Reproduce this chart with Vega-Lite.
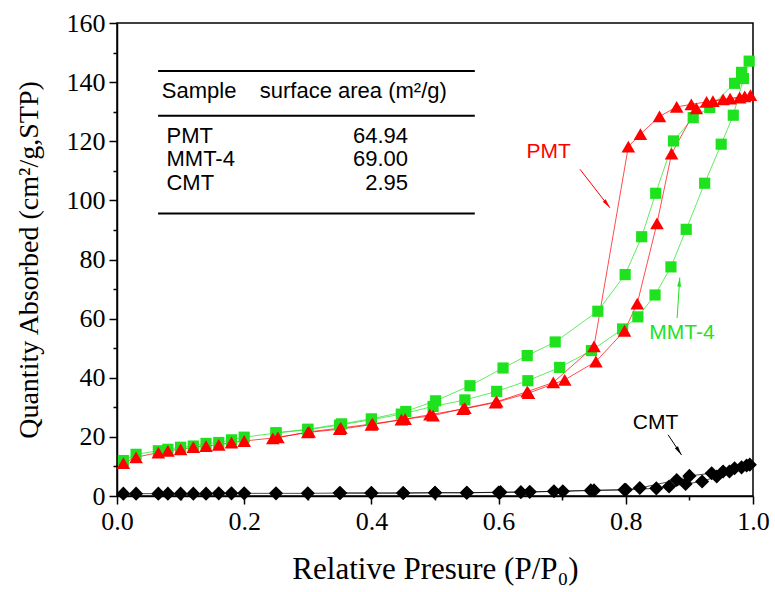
{
  "$schema": "https://vega.github.io/schema/vega-lite/v6.json",
  "width": 636,
  "height": 473,
  "autosize": {"type": "none"},
  "padding": {"left": 117, "top": 23, "right": 22, "bottom": 96},
  "background": "white",
  "config": {
    "view": {"stroke": "black", "strokeWidth": 1.5},
    "axis": {"domainColor": "black", "tickColor": "black", "labelColor": "black", "titleColor": "black", "grid": false}
  },
  "datasets": {
    "iso": [
      {"s": "MMT-4", "o": 1, "x": 0.01, "y": 12.0},
      {"s": "MMT-4", "o": 2, "x": 0.03, "y": 14.1},
      {"s": "MMT-4", "o": 3, "x": 0.065, "y": 15.3},
      {"s": "MMT-4", "o": 4, "x": 0.08, "y": 15.8},
      {"s": "MMT-4", "o": 5, "x": 0.10, "y": 16.5},
      {"s": "MMT-4", "o": 6, "x": 0.12, "y": 16.9},
      {"s": "MMT-4", "o": 7, "x": 0.14, "y": 17.8},
      {"s": "MMT-4", "o": 8, "x": 0.16, "y": 18.1},
      {"s": "MMT-4", "o": 9, "x": 0.18, "y": 19.0},
      {"s": "MMT-4", "o": 10, "x": 0.20, "y": 19.9},
      {"s": "MMT-4", "o": 11, "x": 0.25, "y": 21.3},
      {"s": "MMT-4", "o": 12, "x": 0.30, "y": 22.4},
      {"s": "MMT-4", "o": 13, "x": 0.35, "y": 24.0},
      {"s": "MMT-4", "o": 14, "x": 0.40, "y": 25.8},
      {"s": "MMT-4", "o": 15, "x": 0.447, "y": 27.7},
      {"s": "MMT-4", "o": 16, "x": 0.497, "y": 30.3},
      {"s": "MMT-4", "o": 17, "x": 0.547, "y": 32.5},
      {"s": "MMT-4", "o": 18, "x": 0.597, "y": 35.4},
      {"s": "MMT-4", "o": 19, "x": 0.646, "y": 39.0},
      {"s": "MMT-4", "o": 20, "x": 0.696, "y": 43.5},
      {"s": "MMT-4", "o": 21, "x": 0.746, "y": 49.2},
      {"s": "MMT-4", "o": 22, "x": 0.795, "y": 56.5},
      {"s": "MMT-4", "o": 23, "x": 0.819, "y": 60.6},
      {"s": "MMT-4", "o": 24, "x": 0.846, "y": 68.0},
      {"s": "MMT-4", "o": 25, "x": 0.871, "y": 77.5},
      {"s": "MMT-4", "o": 26, "x": 0.895, "y": 90.2},
      {"s": "MMT-4", "o": 27, "x": 0.924, "y": 105.8},
      {"s": "MMT-4", "o": 28, "x": 0.950, "y": 119.0},
      {"s": "MMT-4", "o": 29, "x": 0.969, "y": 128.8},
      {"s": "MMT-4", "o": 30, "x": 0.985, "y": 141.2},
      {"s": "MMT-4", "o": 31, "x": 0.994, "y": 147.1},
      {"s": "MMT-4", "o": 32, "x": 0.982, "y": 143.3},
      {"s": "MMT-4", "o": 33, "x": 0.971, "y": 139.6},
      {"s": "MMT-4", "o": 34, "x": 0.932, "y": 131.4},
      {"s": "MMT-4", "o": 35, "x": 0.906, "y": 128.0},
      {"s": "MMT-4", "o": 36, "x": 0.875, "y": 120.1},
      {"s": "MMT-4", "o": 37, "x": 0.847, "y": 102.4},
      {"s": "MMT-4", "o": 38, "x": 0.825, "y": 87.7},
      {"s": "MMT-4", "o": 39, "x": 0.799, "y": 74.9},
      {"s": "MMT-4", "o": 40, "x": 0.756, "y": 62.5},
      {"s": "MMT-4", "o": 41, "x": 0.689, "y": 52.1},
      {"s": "MMT-4", "o": 42, "x": 0.645, "y": 47.5},
      {"s": "MMT-4", "o": 43, "x": 0.607, "y": 43.3},
      {"s": "MMT-4", "o": 44, "x": 0.555, "y": 37.3},
      {"s": "MMT-4", "o": 45, "x": 0.501, "y": 32.2},
      {"s": "MMT-4", "o": 46, "x": 0.454, "y": 28.6},
      {"s": "MMT-4", "o": 47, "x": 0.40, "y": 26.1},
      {"s": "MMT-4", "o": 48, "x": 0.353, "y": 24.4},
      {"s": "MMT-4", "o": 49, "x": 0.30, "y": 22.6},
      {"s": "MMT-4", "o": 50, "x": 0.25, "y": 21.4},
      {"s": "PMT", "o": 1, "x": 0.01, "y": 11.1},
      {"s": "PMT", "o": 2, "x": 0.03, "y": 13.1},
      {"s": "PMT", "o": 3, "x": 0.065, "y": 14.7},
      {"s": "PMT", "o": 4, "x": 0.08, "y": 15.3},
      {"s": "PMT", "o": 5, "x": 0.10, "y": 15.8},
      {"s": "PMT", "o": 6, "x": 0.12, "y": 16.5},
      {"s": "PMT", "o": 7, "x": 0.14, "y": 16.9},
      {"s": "PMT", "o": 8, "x": 0.16, "y": 17.3},
      {"s": "PMT", "o": 9, "x": 0.18, "y": 18.1},
      {"s": "PMT", "o": 10, "x": 0.20, "y": 18.6},
      {"s": "PMT", "o": 11, "x": 0.253, "y": 19.8},
      {"s": "PMT", "o": 12, "x": 0.30, "y": 21.5},
      {"s": "PMT", "o": 13, "x": 0.35, "y": 22.6},
      {"s": "PMT", "o": 14, "x": 0.40, "y": 24.1},
      {"s": "PMT", "o": 15, "x": 0.447, "y": 25.8},
      {"s": "PMT", "o": 16, "x": 0.492, "y": 27.5},
      {"s": "PMT", "o": 17, "x": 0.544, "y": 29.4},
      {"s": "PMT", "o": 18, "x": 0.595, "y": 31.6},
      {"s": "PMT", "o": 19, "x": 0.647, "y": 34.8},
      {"s": "PMT", "o": 20, "x": 0.704, "y": 39.3},
      {"s": "PMT", "o": 21, "x": 0.753, "y": 45.5},
      {"s": "PMT", "o": 22, "x": 0.798, "y": 55.9},
      {"s": "PMT", "o": 23, "x": 0.818, "y": 65.1},
      {"s": "PMT", "o": 24, "x": 0.849, "y": 92.2},
      {"s": "PMT", "o": 25, "x": 0.872, "y": 115.8},
      {"s": "PMT", "o": 26, "x": 0.911, "y": 131.1},
      {"s": "PMT", "o": 27, "x": 0.937, "y": 133.6},
      {"s": "PMT", "o": 28, "x": 0.964, "y": 134.4},
      {"s": "PMT", "o": 29, "x": 0.987, "y": 135.2},
      {"s": "PMT", "o": 30, "x": 0.996, "y": 135.6},
      {"s": "PMT", "o": 31, "x": 0.979, "y": 134.8},
      {"s": "PMT", "o": 32, "x": 0.953, "y": 134.2},
      {"s": "PMT", "o": 33, "x": 0.927, "y": 133.3},
      {"s": "PMT", "o": 34, "x": 0.903, "y": 132.5},
      {"s": "PMT", "o": 35, "x": 0.880, "y": 131.6},
      {"s": "PMT", "o": 36, "x": 0.853, "y": 128.4},
      {"s": "PMT", "o": 37, "x": 0.823, "y": 122.4},
      {"s": "PMT", "o": 38, "x": 0.804, "y": 118.2},
      {"s": "PMT", "o": 39, "x": 0.750, "y": 50.6},
      {"s": "PMT", "o": 40, "x": 0.686, "y": 38.4},
      {"s": "PMT", "o": 41, "x": 0.645, "y": 35.3},
      {"s": "PMT", "o": 42, "x": 0.597, "y": 31.9},
      {"s": "PMT", "o": 43, "x": 0.547, "y": 29.7},
      {"s": "PMT", "o": 44, "x": 0.497, "y": 27.2},
      {"s": "PMT", "o": 45, "x": 0.453, "y": 26.0},
      {"s": "PMT", "o": 46, "x": 0.402, "y": 24.4},
      {"s": "PMT", "o": 47, "x": 0.352, "y": 23.0},
      {"s": "PMT", "o": 48, "x": 0.302, "y": 21.7},
      {"s": "PMT", "o": 49, "x": 0.245, "y": 19.5},
      {"s": "CMT", "o": 1, "x": 0.01, "y": 0.8},
      {"s": "CMT", "o": 2, "x": 0.03, "y": 0.8},
      {"s": "CMT", "o": 3, "x": 0.065, "y": 0.8},
      {"s": "CMT", "o": 4, "x": 0.08, "y": 0.8},
      {"s": "CMT", "o": 5, "x": 0.10, "y": 0.8},
      {"s": "CMT", "o": 6, "x": 0.12, "y": 0.8},
      {"s": "CMT", "o": 7, "x": 0.14, "y": 0.8},
      {"s": "CMT", "o": 8, "x": 0.16, "y": 0.9},
      {"s": "CMT", "o": 9, "x": 0.18, "y": 0.9},
      {"s": "CMT", "o": 10, "x": 0.20, "y": 0.9},
      {"s": "CMT", "o": 11, "x": 0.25, "y": 0.9},
      {"s": "CMT", "o": 12, "x": 0.30, "y": 0.9},
      {"s": "CMT", "o": 13, "x": 0.351, "y": 1.0},
      {"s": "CMT", "o": 14, "x": 0.40, "y": 1.0},
      {"s": "CMT", "o": 15, "x": 0.45, "y": 1.0},
      {"s": "CMT", "o": 16, "x": 0.50, "y": 1.1},
      {"s": "CMT", "o": 17, "x": 0.55, "y": 1.1},
      {"s": "CMT", "o": 18, "x": 0.60, "y": 1.2},
      {"s": "CMT", "o": 19, "x": 0.635, "y": 1.3},
      {"s": "CMT", "o": 20, "x": 0.701, "y": 1.6},
      {"s": "CMT", "o": 21, "x": 0.745, "y": 1.9},
      {"s": "CMT", "o": 22, "x": 0.798, "y": 2.1},
      {"s": "CMT", "o": 23, "x": 0.848, "y": 2.6},
      {"s": "CMT", "o": 24, "x": 0.868, "y": 3.2},
      {"s": "CMT", "o": 25, "x": 0.894, "y": 4.1},
      {"s": "CMT", "o": 26, "x": 0.92, "y": 4.9},
      {"s": "CMT", "o": 27, "x": 0.943, "y": 6.6},
      {"s": "CMT", "o": 28, "x": 0.963, "y": 8.3},
      {"s": "CMT", "o": 29, "x": 0.982, "y": 9.7},
      {"s": "CMT", "o": 30, "x": 0.995, "y": 10.6},
      {"s": "CMT", "o": 31, "x": 0.990, "y": 10.3},
      {"s": "CMT", "o": 32, "x": 0.971, "y": 9.4},
      {"s": "CMT", "o": 33, "x": 0.953, "y": 8.3},
      {"s": "CMT", "o": 34, "x": 0.935, "y": 7.7},
      {"s": "CMT", "o": 35, "x": 0.90, "y": 6.8},
      {"s": "CMT", "o": 36, "x": 0.88, "y": 5.4},
      {"s": "CMT", "o": 37, "x": 0.822, "y": 2.7},
      {"s": "CMT", "o": 38, "x": 0.80, "y": 2.1},
      {"s": "CMT", "o": 39, "x": 0.75, "y": 1.9},
      {"s": "CMT", "o": 40, "x": 0.687, "y": 1.6},
      {"s": "CMT", "o": 41, "x": 0.649, "y": 1.4},
      {"s": "CMT", "o": 42, "x": 0.603, "y": 1.3},
      {"s": "CMT", "o": 43, "x": 0.55, "y": 1.1},
      {"s": "CMT", "o": 44, "x": 0.50, "y": 1.1},
      {"s": "CMT", "o": 45, "x": 0.45, "y": 1.0},
      {"s": "CMT", "o": 46, "x": 0.40, "y": 1.0},
      {"s": "CMT", "o": 47, "x": 0.35, "y": 1.0}
    ],
    "rules": [
      {"x": 0.0646, "x2": 0.5626, "y": 143.8},
      {"x": 0.0646, "x2": 0.5626, "y": 128.6},
      {"x": 0.0646, "x2": 0.5626, "y": 95.6}
    ],
    "tleft": [
      {"t": "Sample", "x": 0.0704, "y": 137.1},
      {"t": "surface area (m²/g)", "x": 0.2245, "y": 137.1},
      {"t": "PMT", "x": 0.0778, "y": 121.8},
      {"t": "MMT-4", "x": 0.0778, "y": 113.9},
      {"t": "CMT", "x": 0.0778, "y": 105.8}
    ],
    "tright": [
      {"t": "64.94", "x": 0.4577, "y": 121.8},
      {"t": "69.00", "x": 0.4577, "y": 113.9},
      {"t": "2.95", "x": 0.4577, "y": 105.8}
    ],
    "notes": [
      {"s": "PMT", "t": "PMT", "x": 0.644, "y": 116.3},
      {"s": "MMT-4", "t": "MMT-4", "x": 0.837, "y": 55.2},
      {"s": "CMT", "t": "CMT", "x": 0.811, "y": 24.8}
    ],
    "arrows": [
      {"s": "PMT", "x": 0.728, "y": 110.5, "x2": 0.775, "y2": 97.5},
      {"s": "MMT-4", "x": 0.8807, "y": 60.2, "x2": 0.8849, "y2": 73.9},
      {"s": "CMT", "x": 0.8665, "y": 20.7, "x2": 0.8876, "y2": 13.9}
    ]
  },
  "resolve": {"axis": {"x": "independent", "y": "independent"}},
  "layer": [
    {
      "data": {"name": "iso"},
      "mark": {"type": "line", "strokeWidth": 1, "strokeOpacity": 0.7},
      "encoding": {
        "x": {"field": "x", "type": "quantitative", "scale": {"domain": [0, 1], "nice": false, "zero": false},
          "axis": {"orient": "bottom", "values": [0, 0.2, 0.4, 0.6, 0.8, 1.0], "format": ".1f", "tickSize": 8, "tickWidth": 1.5, "domainWidth": 1.5,
            "labelFont": "Liberation Serif", "labelFontSize": 26, "labelPadding": 4, "labelFlush": false, "labelOverlap": false,
            "title": "Relative Presure (P/P₀)", "titleFont": "Liberation Serif", "titleFontSize": 31, "titleFontWeight": "normal", "titlePadding": 20}},
        "y": {"field": "y", "type": "quantitative", "scale": {"domain": [0, 160], "nice": false},
          "axis": {"orient": "left", "values": [0, 20, 40, 60, 80, 100, 120, 140, 160], "tickSize": 8, "tickWidth": 1.5, "domainWidth": 1.5,
            "labelFont": "Liberation Serif", "labelFontSize": 26, "labelPadding": 4, "labelFlush": false, "labelOverlap": false,
            "title": "Quantity Absorbed (cm²/g,STP)", "titleFont": "Liberation Serif", "titleFontSize": 28, "titleFontWeight": "normal", "titlePadding": 23}},
        "color": {"field": "s", "type": "nominal", "scale": {"domain": ["PMT", "MMT-4", "CMT"], "range": ["#ff0000", "#1ee21e", "#000000"]}, "legend": null},
        "detail": {"field": "s"},
        "order": {"field": "o", "type": "quantitative"}
      }
    },
    {
      "data": {"name": "iso"},
      "mark": {"type": "point", "filled": true, "opacity": 1},
      "encoding": {
        "x": {"field": "x", "type": "quantitative",
          "axis": {"orient": "bottom", "values": [0.1, 0.3, 0.5, 0.7, 0.9], "labels": false, "domain": false, "tickSize": 4, "tickWidth": 1.5, "title": null}},
        "y": {"field": "y", "type": "quantitative",
          "axis": {"orient": "left", "values": [10, 30, 50, 70, 90, 110, 130, 150], "labels": false, "domain": false, "tickSize": 4, "tickWidth": 1.5, "title": null}},
        "color": {"field": "s", "type": "nominal", "legend": null},
        "shape": {"field": "s", "type": "nominal", "scale": {"domain": ["PMT", "MMT-4", "CMT"], "range": ["triangle-up", "square", "M-1,0L0,-1L1,0L0,1Z"]}, "legend": null},
        "size": {"field": "s", "type": "nominal", "scale": {"type": "ordinal", "domain": ["PMT", "MMT-4", "CMT"], "range": [185, 125, 200]}, "legend": null}
      }
    },
    {
      "data": {"name": "rules"},
      "mark": {"type": "rule", "color": "black", "strokeWidth": 2},
      "encoding": {
        "x": {"field": "x", "type": "quantitative", "axis": null},
        "x2": {"field": "x2"},
        "y": {"field": "y", "type": "quantitative", "axis": null}
      }
    },
    {
      "data": {"name": "tleft"},
      "mark": {"type": "text", "align": "left", "baseline": "middle", "font": "Liberation Sans", "fontSize": 22, "color": "black"},
      "encoding": {
        "x": {"field": "x", "type": "quantitative", "axis": null},
        "y": {"field": "y", "type": "quantitative", "axis": null},
        "text": {"field": "t"}
      }
    },
    {
      "data": {"name": "tright"},
      "mark": {"type": "text", "align": "right", "baseline": "middle", "font": "Liberation Sans", "fontSize": 22, "color": "black"},
      "encoding": {
        "x": {"field": "x", "type": "quantitative", "axis": null},
        "y": {"field": "y", "type": "quantitative", "axis": null},
        "text": {"field": "t"}
      }
    },
    {
      "data": {"name": "notes"},
      "mark": {"type": "text", "align": "left", "baseline": "middle", "font": "Liberation Sans", "fontSize": 21},
      "encoding": {
        "x": {"field": "x", "type": "quantitative", "axis": null},
        "y": {"field": "y", "type": "quantitative", "axis": null},
        "text": {"field": "t"},
        "color": {"field": "s", "type": "nominal", "legend": null}
      }
    },
    {
      "data": {"name": "arrows"},
      "mark": {"type": "rule", "strokeWidth": 1},
      "encoding": {
        "x": {"field": "x", "type": "quantitative", "axis": null},
        "y": {"field": "y", "type": "quantitative", "axis": null},
        "x2": {"field": "x2"},
        "y2": {"field": "y2"},
        "color": {"field": "s", "type": "nominal", "legend": null}
      }
    },
    {
      "data": {"name": "arrows"},
      "transform": [{"filter": "datum.s == 'PMT'"}],
      "mark": {"type": "point", "filled": true, "opacity": 1, "shape": "M0,0L0.45,2.2L-0.45,2.2Z", "size": 70, "angle": 142},
      "encoding": {
        "x": {"field": "x2", "type": "quantitative", "axis": null},
        "y": {"field": "y2", "type": "quantitative", "axis": null},
        "color": {"field": "s", "type": "nominal", "legend": null}
      }
    },
    {
      "data": {"name": "arrows"},
      "transform": [{"filter": "datum.s == 'MMT-4'"}],
      "mark": {"type": "point", "filled": true, "opacity": 1, "shape": "M0,0L0.45,2.2L-0.45,2.2Z", "size": 70, "angle": 4},
      "encoding": {
        "x": {"field": "x2", "type": "quantitative", "axis": null},
        "y": {"field": "y2", "type": "quantitative", "axis": null},
        "color": {"field": "s", "type": "nominal", "legend": null}
      }
    },
    {
      "data": {"name": "arrows"},
      "transform": [{"filter": "datum.s == 'CMT'"}],
      "mark": {"type": "point", "filled": true, "opacity": 1, "shape": "M0,0L0.45,2.2L-0.45,2.2Z", "size": 70, "angle": 146},
      "encoding": {
        "x": {"field": "x2", "type": "quantitative", "axis": null},
        "y": {"field": "y2", "type": "quantitative", "axis": null},
        "color": {"field": "s", "type": "nominal", "legend": null}
      }
    }
  ]
}
